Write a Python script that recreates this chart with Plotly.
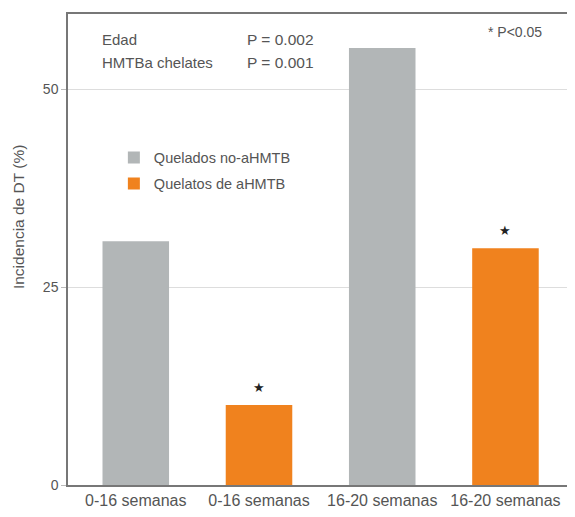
import plotly.graph_objects as go

tick_labels = ["0-16 semanas", "0-16 semanas", "16-20 semanas", "16-20 semanas"]
gray_x = [0, 2]
gray_vals = [30.8, 55.2]
orange_x = [1, 3]
orange_vals = [10.1, 29.9]
star_x = [1, 3]
star_vals = [10.1, 29.9]

GRAY = "#b2b6b7"
ORANGE = "#f0821e"
TXT = "#555555"
FONT = "Liberation Sans, Arial, sans-serif"

fig = go.Figure()
fig.add_trace(go.Bar(x=gray_x, y=gray_vals, width=0.54, marker_color=GRAY,
                     name="Quelados no-aHMTB", marker_line_width=0, legendgroup="a"))
fig.add_trace(go.Bar(x=orange_x, y=orange_vals, width=0.54, marker_color=ORANGE,
                     name="Quelatos de aHMTB", marker_line_width=0, legendgroup="b"))

for sx, sv in zip(star_x, star_vals):
    fig.add_annotation(x=sx, y=sv, text="★", showarrow=False, yshift=18,
                       font=dict(size=13, color="#222222"))

ann_font = dict(size=15, color=TXT, family=FONT)
fig.add_annotation(xref="paper", yref="paper", x=0.063, y=0.945, xanchor="left", yanchor="middle",
                   text="Edad", showarrow=False, font=ann_font)
fig.add_annotation(xref="paper", yref="paper", x=0.351, y=0.945, xanchor="left", yanchor="middle",
                   text="P = 0.002", showarrow=False, font=dict(size=15.5, color=TXT, family=FONT))
fig.add_annotation(xref="paper", yref="paper", x=0.063, y=0.896, xanchor="left", yanchor="middle",
                   text="HMTBa chelates", showarrow=False, font=ann_font)
fig.add_annotation(xref="paper", yref="paper", x=0.351, y=0.896, xanchor="left", yanchor="middle",
                   text="P = 0.001", showarrow=False, font=dict(size=15.5, color=TXT, family=FONT))
fig.add_annotation(xref="paper", yref="paper", x=0.83, y=0.962, xanchor="left", yanchor="middle",
                   text="* P<0.05", showarrow=False, font=dict(size=14, color=TXT, family=FONT))
fig.add_annotation(xref="paper", yref="paper", x=-0.099, y=0.569, xanchor="center", yanchor="middle",
                   text="Incidencia de DT (%)", textangle=-90, showarrow=False,
                   font=dict(size=15.5, color=TXT, family=FONT))

fig.update_layout(
    width=567, height=509,
    margin=dict(l=60, r=3, t=6, b=32, autoexpand=False),
    paper_bgcolor="white", plot_bgcolor="white",
    barmode="overlay",
    font=dict(family=FONT, color=TXT, size=14),
    legend=dict(x=0.091, y=0.729, xanchor="left", yanchor="top",
                bgcolor="rgba(0,0,0,0)", font=dict(size=14.5, color=TXT, family=FONT),
                tracegroupgap=4, itemwidth=30),
    xaxis=dict(range=[-0.55, 3.54], tickvals=[0, 1, 2, 3], ticktext=tick_labels,
               showgrid=False, showline=True, linecolor="#777777", linewidth=1.5,
               mirror=True, ticks="", tickfont=dict(size=16, color=TXT)),
    yaxis=dict(range=[0, 59.5], tickvals=[0, 25, 50], showgrid=True,
               gridcolor="#dddddd", gridwidth=1, zeroline=False,
               showline=True, linecolor="#777777", linewidth=1.5, mirror=True,
               ticks="outside", ticklen=5, tickcolor="#bbbbbb",
               tickfont=dict(size=14, color=TXT), automargin=False),
)

fig.write_html("out.html")
